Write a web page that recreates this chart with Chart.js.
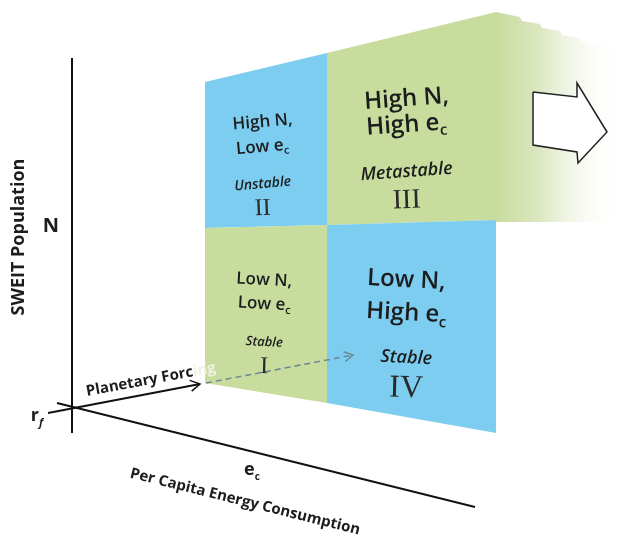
<!DOCTYPE html>
<html>
<head>
<meta charset="utf-8">
<script src="https://cdn.jsdelivr.net/npm/chart.js@4.4.1/dist/chart.umd.min.js"></script>
<style>
  html, body { margin: 0; padding: 0; background: #fff; }
  canvas { display: block; }
</style>
</head>
<body>
<canvas id="diagram" width="620" height="542"></canvas>
<script>
// diagram space: x runs along e_c (left -> right), y along N (top -> bottom, like the picture)
const gridX = [205, 327, 496];          // column edges of the quadrant panel
const gridTopY = [82, 53, 12];          // top edge at each column edge
const gridMidY = [228, 225, 220];       // High N / Low N split
const gridBottomY = [383, 403, 433];    // bottom edge

const quadrantNames = ['II', 'III', 'I', 'IV'];
const quadrantNLabels = ['High N,', 'High N,', 'Low N,', 'Low N,'];
const quadrantELabels = ['Low e', 'High e', 'Low e', 'High e'];
const quadrantStates = ['Unstable', 'Metastable', 'Stable', 'Stable'];

const nAxisLine = [{x: 72, y: 58}, {x: 72, y: 433}];
const ecAxisLine = [{x: 57, y: 403}, {x: 475, y: 507}];
const forcingLine = [{x: 48, y: 413}, {x: 200, y: 384}];
const forcingDashed = [{x: 206, y: 383}, {x: 353, y: 355}];

// fading stack of pages behind quadrant III
const pagesTopX = [496, 520, 522, 540, 542, 560, 562, 580, 582, 600, 620];
const pagesTopY = [12, 17, 21, 24, 28, 31, 35, 38, 42, 45, 50];
const pagesBottomY = 222;

// hollow arrow pointing onward
const bigArrowX = [533, 577, 577, 607, 578, 577, 533];
const bigArrowY = [92, 97, 83, 132, 163, 152, 145];

const BLUE = '#7dcdf0';
const GREEN = '#c8dc9e';
const INK = '#1c1c1c';

function quad(col, row) {
  const top = row === 0 ? gridTopY : gridMidY;
  const bot = row === 0 ? gridMidY : gridBottomY;
  return [
    {x: gridX[col], y: top[col]},
    {x: gridX[col + 1], y: top[col + 1]},
    {x: gridX[col + 1], y: bot[col + 1]},
    {x: gridX[col], y: bot[col]},
    {x: gridX[col], y: top[col]}
  ];
}

function arrowHead(from, tip, len) {
  const a = Math.atan2(tip.y - from.y, tip.x - from.x) + Math.PI;
  const s = Math.PI / 6;
  return [
    {x: tip.x + len * Math.cos(a + s), y: tip.y + len * Math.sin(a + s)},
    tip,
    {x: tip.x + len * Math.cos(a - s), y: tip.y + len * Math.sin(a - s)}
  ];
}

function shape(data, fill, border, width) {
  return {data: data, fill: 'shape', backgroundColor: fill, borderColor: border || 'rgba(0,0,0,0)', borderWidth: width || 0};
}
function line(data, color, width, dash) {
  return {data: data, fill: false, borderColor: color, borderWidth: width, borderDash: dash || [], borderCapStyle: 'butt'};
}

const pagesPoly = pagesTopX.map((x, i) => ({x: x, y: pagesTopY[i]}))
  .concat([{x: 620, y: pagesBottomY}, {x: 496, y: pagesBottomY}]);

// back to front
const layers = [
  shape(pagesPoly, function (context) {
    const c = context.chart;
    if (!c.chartArea) return GREEN;
    const g = c.ctx.createLinearGradient(c.scales.x.getPixelForValue(496), 0, c.scales.x.getPixelForValue(620), 0);
    g.addColorStop(0, 'rgba(200,220,158,1)');
    g.addColorStop(0.35, 'rgba(215,228,185,0.9)');
    g.addColorStop(1, 'rgba(255,255,255,0)');
    return g;
  }),
  shape(quad(0, 0), BLUE),
  shape(quad(1, 0), GREEN),
  shape(quad(0, 1), GREEN),
  shape(quad(1, 1), BLUE),
  shape(bigArrowX.map((x, i) => ({x: x, y: bigArrowY[i]})).concat([{x: bigArrowX[0], y: bigArrowY[0]}]), '#ffffff', '#222', 1.5),
  line(nAxisLine, '#111', 2),
  line(ecAxisLine, '#111', 2),
  line(forcingLine, '#111', 2),
  line(arrowHead(forcingLine[0], forcingLine[1], 11), '#111', 1.5),
  line(forcingDashed, '#6a8794', 1.5, [6, 4]),
  line(arrowHead(forcingDashed[0], forcingDashed[1], 10), '#6a8794', 1.5)
];

function drawRich(ctx, x, y, angle, parts, align) {
  ctx.save();
  ctx.translate(x, y);
  ctx.rotate(angle * Math.PI / 180);
  ctx.textBaseline = 'alphabetic';
  let total = 0;
  parts.forEach(p => { ctx.font = p.font; p.w = ctx.measureText(p.t).width; total += p.w; });
  let cx = align === 'left' ? 0 : -total / 2;
  parts.forEach(p => {
    ctx.font = p.font;
    ctx.fillStyle = p.color || INK;
    ctx.fillText(p.t, cx, p.dy || 0);
    cx += p.w;
  });
  ctx.restore();
}

const SANS = '"Open Sans", "Noto Sans", sans-serif';
const SERIF = '"Liberation Serif", "DejaVu Serif", serif';

// text layout for each quadrant: centre x, baselines, sizes, tilt
const quadLayout = [
  {cx: 263, b: [127, 152, 188, 215], size: 17, state: 14, num: 24, rot: -5},
  {cx: 407, b: [106, 132, 177, 208], size: 24, state: 18, num: 28, rot: -4},
  {cx: 264, b: [285, 309, 346, 373], size: 17, state: 13, num: 24, rot: 3},
  {cx: 406, b: [287, 320, 363, 397], size: 24, state: 18, num: 32, rot: 3}
];

const labelPlugin = {
  id: 'labels',
  afterDatasetsDraw(chart) {
    const ctx = chart.ctx;
    const X = v => chart.scales.x.getPixelForValue(v);
    const Y = v => chart.scales.y.getPixelForValue(v);

    quadrantNames.forEach((name, i) => {
      const L = quadLayout[i];
      const f = '600 ' + L.size + 'px ' + SANS;
      const fs = '600 ' + Math.round(L.size * 0.62) + 'px ' + SANS;
      drawRich(ctx, X(L.cx), Y(L.b[0]), L.rot, [{t: quadrantNLabels[i], font: f}]);
      drawRich(ctx, X(L.cx), Y(L.b[1]), L.rot, [
        {t: quadrantELabels[i], font: f},
        {t: 'c', font: fs, dy: L.size * 0.22}
      ]);
      drawRich(ctx, X(L.cx), Y(L.b[2]), L.rot, [{t: quadrantStates[i], font: 'italic 600 ' + L.state + 'px ' + SANS}]);
      drawRich(ctx, X(L.cx), Y(L.b[3]), L.rot * 0.5, [{t: name, font: L.num + 'px ' + SERIF, color: '#2a2a2a'}]);
    });

    // axis titles
    drawRich(ctx, X(24), Y(237), -90, [{t: 'SWEIT Population', font: 'bold 18px ' + SANS}]);
    drawRich(ctx, X(51), Y(232), 0, [{t: 'N', font: 'bold 20px ' + SANS}]);
    drawRich(ctx, X(37), Y(421), 0, [
      {t: 'r', font: 'bold 18px ' + SANS},
      {t: 'f', font: 'italic bold 11px ' + SANS, dy: 5}
    ]);
    drawRich(ctx, X(252), Y(475), 0, [
      {t: 'e', font: 'bold 18px ' + SANS},
      {t: 'c', font: 'bold 10px ' + SANS, dy: 5}
    ]);
    drawRich(ctx, X(244), Y(506), 14, [{t: 'Per Capita Energy Consumption', font: 'bold 15px ' + SANS}]);
    drawRich(ctx, X(87), Y(396), -10.5, [
      {t: 'Planetary Forc', font: 'bold 15px ' + SANS},
      {t: 'ing', font: 'bold 15px ' + SANS, color: '#eef2e2'}
    ], 'left');
  }
};

new Chart(document.getElementById('diagram'), {
  type: 'line',
  data: {datasets: layers.reverse()},
  options: {
    responsive: false,
    animation: false,
    events: [],
    layout: {padding: 0},
    elements: {point: {radius: 0}, line: {tension: 0}},
    scales: {
      x: {type: 'linear', min: 0, max: 620, display: false},
      y: {type: 'linear', min: 0, max: 542, reverse: true, display: false}
    },
    plugins: {legend: {display: false}, tooltip: {enabled: false}}
  },
  plugins: [labelPlugin]
});
</script>
</body>
</html>
